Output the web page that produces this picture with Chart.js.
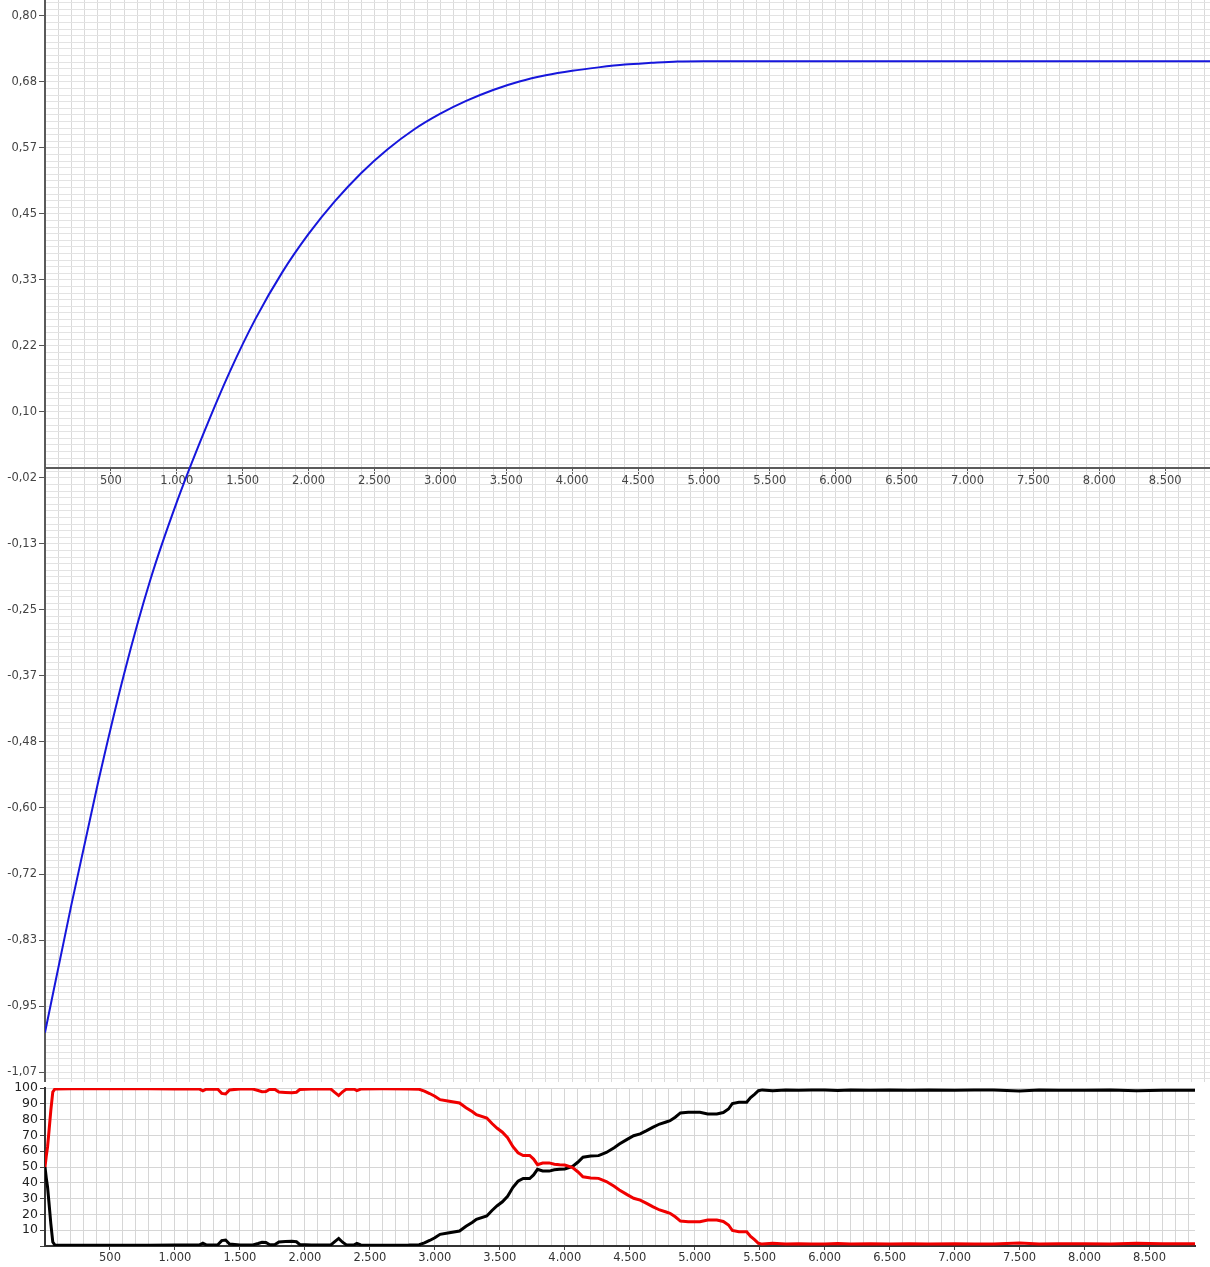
<!DOCTYPE html>
<html><head><meta charset="utf-8">
<script src="https://cdn.jsdelivr.net/npm/chart.js@4/dist/chart.umd.min.js"></script>
<style>
html,body{margin:0;padding:0;background:#fff;width:1210px;height:1267px;overflow:hidden}
#c1{position:absolute;left:0;top:0}
#c2{position:absolute;left:0;top:1082px}
</style></head><body>
<canvas id="c1" width="1210" height="1082"></canvas>
<canvas id="c2" width="1210" height="185"></canvas>
<script>
// ---------- data: upper chart (blue curve) ----------
const blueX = [0,200,400,600,800,1000,1200,1400,1600,1800,2000,2200,2400,2600,2800,3000,3200,3400,3600,3800,4000,4200,4400,4600,4800,5000,8840];
const blueY = [-1.000,-0.774,-0.560,-0.365,-0.198,-0.061,0.059,0.169,0.265,0.346,0.414,0.472,0.522,0.564,0.599,0.627,0.650,0.669,0.684,0.695,0.703,0.709,0.714,0.717,0.7195,0.720,0.720];

// tick labels
const topYLabels = ['0,80','0,68','0,57','0,45','0,33','0,22','0,10','-0,02','-0,13','-0,25','-0,37','-0,48','-0,60','-0,72','-0,83','-0,95','-1,07'];
const topXLabels = ['500','1.000','1.500','2.000','2.500','3.000','3.500','4.000','4.500','5.000','5.500','6.000','6.500','7.000','7.500','8.000','8.500'];
const botXLabels = ['500','1.000','1.500','2.000','2.500','3.000','3.500','4.000','4.500','5.000','5.500','6.000','6.500','7.000','7.500','8.000','8.500'];
const botYLabels = ['10','20','30','40','50','60','70','80','90','100'];

// ---------- data: lower chart (percent shares) ----------
const mixX = [
 0,10,20,30,45,60,75,200,500,800,
 1000,1150,1190,1215,1240,1330,1360,1390,1420,1500,
 1600,1640,1670,1700,1730,1770,1800,1850,1900,1935,
 1960,2050,2200,2230,2260,2290,2320,2380,2400,2430,
 2600,2800,2880,2920,2960,3000,3040,3100,3190,3240,
 3290,3320,3400,3440,3480,3520,3560,3600,3640,3680,
 3730,3760,3790,3830,3880,3920,3960,4000,4060,4100,
 4140,4200,4260,4320,4380,4420,4480,4530,4580,4630,
 4680,4730,4780,4810,4850,4890,4950,5040,5100,5170,
 5220,5260,5290,5340,5400,5430,5460,5490,5520,5600,
 5700,5800,5900,6000,6100,6200,6350,6500,6650,6800,
 7000,7150,7300,7500,7650,7800,8000,8200,8400,8600,
 8850];
const redPct = [
 50,57,63,72,86,97.5,99.3,99.5,99.5,99.5,
 99.4,99.4,99.3,98.2,99.3,99.2,96.6,96.2,98.8,99.4,
 99.3,98.4,97.6,97.8,99.2,99.0,97.4,97.2,97.0,97.3,
 99.0,99.4,99.3,97.2,95.2,97.6,99.3,99.2,98.3,99.3,
 99.5,99.4,99.2,98.0,96.5,94.8,92.6,91.8,90.5,87.5,
 85.0,83.1,81.0,77.5,74.5,72.0,68.5,63.0,59.0,57.3,
 57.3,55.0,51.5,52.5,52.6,51.8,51.4,51.2,49.7,47.0,
 43.8,43.0,42.8,40.8,37.8,35.5,32.5,30.2,29.0,27.0,
 24.8,22.8,21.5,20.7,18.5,15.8,15.4,15.4,16.5,16.5,
 15.5,13.3,9.8,9.0,9.0,6.0,4.0,1.7,1.2,1.8,
 1.2,1.5,1.3,1.3,1.6,1.2,1.4,1.2,1.5,1.3,
 1.4,1.2,1.3,1.9,1.3,1.4,1.5,1.3,1.8,1.4,
 1.5];
const blackPct = [
 50,43,37,28,14,2.5,0.7,0.5,0.5,0.5,
 0.6,0.6,0.7,1.8,0.7,0.8,3.4,3.8,1.2,0.6,
 0.7,1.6,2.4,2.2,0.8,1.0,2.6,2.8,3.0,2.7,
 1.0,0.6,0.7,2.8,4.8,2.4,0.7,0.8,1.7,0.7,
 0.5,0.6,0.8,2.0,3.5,5.2,7.4,8.2,9.5,12.5,
 15.0,16.9,19.0,22.5,25.5,28.0,31.5,37.0,41.0,42.7,
 42.7,45.0,48.5,47.5,47.4,48.2,48.6,48.8,50.3,53.0,
 56.2,57.0,57.2,59.2,62.2,64.5,67.5,69.8,71.0,73.0,
 75.2,77.2,78.5,79.3,81.5,84.2,84.6,84.6,83.5,83.5,
 84.5,86.7,90.2,91.0,91.0,94.0,96.0,98.3,98.8,98.2,
 98.8,98.5,98.7,98.7,98.4,98.8,98.6,98.8,98.5,98.7,
 98.6,98.8,98.7,98.1,98.7,98.6,98.5,98.7,98.2,98.6,
 98.5];

// ---------- axis settings ----------
const TOP_X_MAX = 8840, BOT_X_MAX = 8850;
const TOP_Y_MAX = 0.8283, TOP_Y_MIN = -1.0877;
const Y_MAJOR_START = 0.80, Y_MAJOR_STEP = 0.116875;
const FONT = 'DejaVu Sans, Verdana, sans-serif';

function xTicks(max, labels){
  const t = [];
  for (let v = 0; v <= max; v += 100){
    const k = v / 500;
    t.push({value: v, lbl: (Number.isInteger(k) && k > 0 && labels[k-1]) ? labels[k-1] : ''});
  }
  return t;
}
function topYTicks(){
  const t = [];
  const minor = Y_MAJOR_STEP / 10;
  for (let j = 2; j >= -170; j--){
    const v = Y_MAJOR_START + j * minor;
    if (v > TOP_Y_MAX || v < TOP_Y_MIN) continue;
    const lbl = (j <= 0 && j % 10 === 0) ? (topYLabels[-j/10] || '') : '';
    t.push({value: v, lbl});
  }
  return t;
}
function botYTicks(){
  const t = [];
  for (let v = 0; v <= 100; v += 10){
    t.push({value: v, lbl: v > 0 ? botYLabels[v/10 - 1] : ''});
  }
  return t;
}
function zeroPad(s){ s.paddingTop = 0; s.paddingBottom = 0; s.paddingLeft = 0; s.paddingRight = 0; }
const lblCb = (v, i, t) => t[i].lbl || '';
const transparent = 'rgba(0,0,0,0)';

// ---------- upper chart ----------
new Chart(document.getElementById('c1'), {
  type: 'line',
  data: { datasets: [{
    data: blueX.map((x, i) => ({x, y: blueY[i]})),
    borderColor: '#1616dc', borderWidth: 2, pointRadius: 0,
    cubicInterpolationMode: 'monotone', fill: false
  }]},
  options: {
    responsive: false, animation: false, devicePixelRatio: 1,
    layout: { padding: 0, autoPadding: false },
    plugins: { legend: {display: false}, tooltip: {enabled: false} },
    scales: {
      x: {
        type: 'linear', min: 0, max: TOP_X_MAX, position: {y: 0},
        afterBuildTicks: s => { s.ticks = xTicks(TOP_X_MAX, topXLabels); },
        afterFit: s => { s.height = 0; zeroPad(s); },
        ticks: { autoSkip: false, maxRotation: 0, padding: 1, color: '#444',
                 font: {family: FONT, size: 11.5}, callback: lblCb },
        grid: { color: '#dadada', lineWidth: 1, tickLength: 5,
                tickColor: c => (c.tick && c.tick.lbl) ? '#555' : transparent },
        border: { color: '#5a5a5a', width: 2 }
      },
      y: {
        type: 'linear', min: TOP_Y_MIN, max: TOP_Y_MAX,
        afterBuildTicks: s => { s.ticks = topYTicks(); },
        afterFit: s => { s.width = 45; zeroPad(s); },
        ticks: { autoSkip: false, padding: 2, color: '#444',
                 font: {family: FONT, size: 11.5}, callback: lblCb },
        grid: { color: '#e3e3e3', lineWidth: 1, tickLength: 6,
                tickColor: c => (c.tick && c.tick.lbl) ? '#555' : transparent },
        border: { color: '#5a5a5a', width: 2 }
      }
    }
  }
});

// ---------- lower chart ----------
new Chart(document.getElementById('c2'), {
  type: 'line',
  data: { datasets: [
    { data: mixX.map((x, i) => ({x, y: redPct[i]})), borderColor: '#f00000',
      borderWidth: 3, pointRadius: 0, fill: false },
    { data: mixX.map((x, i) => ({x, y: blackPct[i]})), borderColor: '#000000',
      borderWidth: 3, pointRadius: 0, fill: false }
  ]},
  options: {
    responsive: false, animation: false, devicePixelRatio: 1,
    layout: { padding: {top: 6, right: 15, left: 0, bottom: 0}, autoPadding: false },
    plugins: { legend: {display: false}, tooltip: {enabled: false} },
    scales: {
      x: {
        type: 'linear', min: 0, max: BOT_X_MAX, position: 'bottom',
        afterBuildTicks: s => { s.ticks = xTicks(BOT_X_MAX, botXLabels); },
        afterFit: s => { s.height = 21; zeroPad(s); },
        ticks: { autoSkip: false, maxRotation: 0, padding: 1, color: '#333',
                 font: {family: FONT, size: 11.5}, callback: lblCb },
        grid: { color: '#d6d6d6', lineWidth: 1, tickLength: 4,
                tickColor: c => (c.tick && c.tick.lbl) ? '#444' : transparent },
        border: { color: '#333', width: 2 }
      },
      y: {
        type: 'linear', min: 0, max: 100,
        afterBuildTicks: s => { s.ticks = botYTicks(); },
        afterFit: s => { s.width = 45; zeroPad(s); },
        ticks: { autoSkip: false, padding: 2, color: '#222',
                 font: {family: FONT, size: 12.5}, callback: lblCb },
        grid: { color: '#d6d6d6', lineWidth: 1, tickLength: 5, tickColor: '#444' },
        border: { color: '#333', width: 2 }
      }
    }
  }
});
</script>
</body></html>
